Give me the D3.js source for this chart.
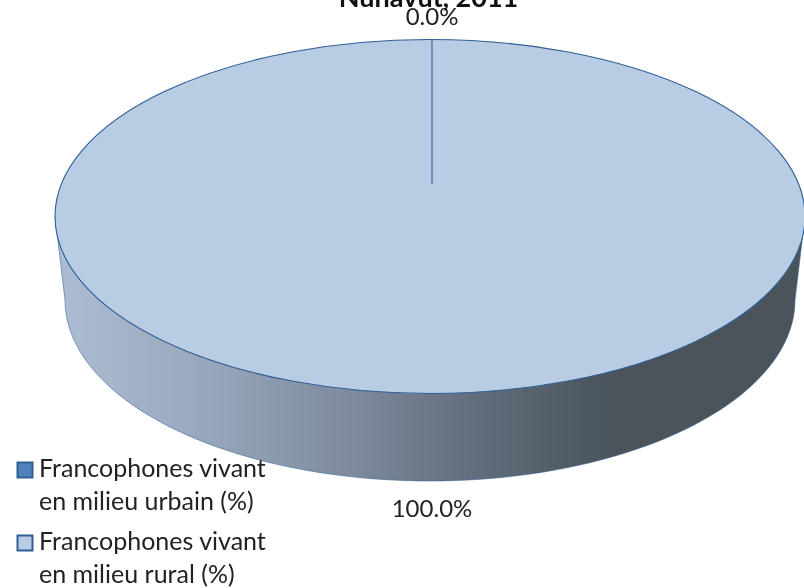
<!DOCTYPE html>
<html>
<head>
<meta charset="utf-8">
<script src="https://cdn.jsdelivr.net/npm/d3@7"></script>
<style>
html,body{margin:0;padding:0;background:#fff;overflow:hidden}
svg{display:block;filter:blur(0.4px)}
text{font-family:Lato,"Open Sans",sans-serif;fill:#222}
</style>
</head>
<body>
<div id="chart"></div>
<script>
const title = "Nunavut, 2011";
const categories = ["Francophones vivant en milieu urbain (%)", "Francophones vivant en milieu rural (%)"];
const legendLines = [["Francophones vivant", "en milieu urbain (%)"], ["Francophones vivant", "en milieu rural (%)"]];
const values = [0, 100];
const valueLabels = ["0.0%", "100.0%"];
const sliceColors = ["#4f81bd", "#b8cce4"];
const strokeColor = "#2f5f96";

const W = 804, H = 588;
const svg = d3.select("#chart").append("svg").attr("width", W).attr("height", H);

const cx = 430, cy = 216.5, rx = 375, ry = 177;
const botCy = 300, botRx = 365, botRy = 181;

const defs = svg.append("defs");
const grad = defs.append("linearGradient").attr("id", "side")
  .attr("gradientUnits", "userSpaceOnUse")
  .attr("x1", cx - rx).attr("x2", cx + rx).attr("y1", 0).attr("y2", 0);
[[0, "#aebed2"], [0.2, "#98a7bc"], [0.4, "#7d8a9c"], [0.55, "#636f7e"], [0.7, "#4f5962"], [0.75, "#4b545b"], [1, "#4b545b"]]
  .forEach(([o, c]) => grad.append("stop").attr("offset", o).attr("stop-color", c));

// Side wall
const side = d3.path();
side.moveTo(cx - rx, cy);
side.lineTo(cx - rx + 3, cy + 25);
side.lineTo(cx - botRx, botCy);
const bottomEdge = d3.range(0, 181, 2).map(a => {
  const t = a * Math.PI / 180;
  return [cx - botRx * Math.cos(t), botCy + botRy * Math.sin(t)];
});
bottomEdge.forEach(p => side.lineTo(p[0], p[1]));
side.lineTo(cx + rx - 3, cy + 25);
side.lineTo(cx + rx, cy);
side.closePath();
svg.append("path").attr("d", side.toString()).attr("fill", "url(#side)")
  .attr("stroke", strokeColor).attr("stroke-opacity", 0.55).attr("stroke-width", 1);

// Top face through d3.pie / d3.arc
const pie = d3.pie().sort(null).value(d => d);
const slices = pie(values);
const arc = d3.arc().outerRadius(rx);
const topFace = svg.append("g").attr("transform", `translate(${cx},${cy}) scale(1,${ry / rx})`);
const hubRadius = 69; // the apex of the zero slice sits above the ellipse centre
const order = [1, 0];
order.forEach(i => {
  const s = slices[i];
  const zero = s.endAngle === s.startAngle;
  topFace.append("path")
    .attr("d", arc.innerRadius(zero ? hubRadius : 0)(s))
    .attr("transform", zero ? "translate(2,0)" : null)
    .attr("fill", sliceColors[i])
    .attr("stroke", strokeColor)
    .attr("stroke-width", 1.1)
    .attr("vector-effect", "non-scaling-stroke");
});

// Title and data labels
svg.append("text").attr("x", 428.5).attr("y", 7).attr("text-anchor", "middle")
  .attr("font-size", 27).attr("font-weight", 700).style("fill", "#111").text(title);
svg.append("text").attr("x", 432).attr("y", 25).attr("text-anchor", "middle")
  .attr("font-size", 24).text(valueLabels[0]);
svg.append("text").attr("x", 432).attr("y", 517).attr("text-anchor", "middle")
  .attr("font-size", 24).text(valueLabels[1]);

// Legend
const legendTop = d3.scalePoint().domain(categories).range([462, 535]);
categories.forEach((c, i) => {
  const y = legendTop(c);
  svg.append("rect").attr("x", 17.5).attr("y", y + 0.5).attr("width", 15).attr("height", 15)
    .attr("fill", sliceColors[i]).attr("stroke", "#2f5f96").attr("stroke-width", 2);
  legendLines[i].forEach((line, j) => {
    svg.append("text").attr("x", 39).attr("y", y + 15 + j * 32.5)
      .attr("font-size", 25).text(line);
  });
});
</script>
</body>
</html>
